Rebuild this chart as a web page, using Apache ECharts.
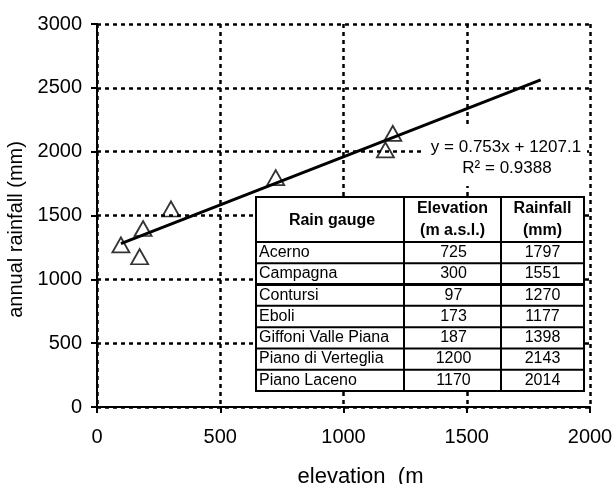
<!DOCTYPE html>
<html>
<head>
<meta charset="utf-8">
<script src="https://cdn.jsdelivr.net/npm/echarts@6/dist/echarts.min.js"></script>
<style>
  html, body { margin: 0; padding: 0; background: #fff; }
  #chart { width: 613px; height: 484px; }
</style>
</head>
<body>
<div id="chart"></div>
<script>
// rain gauge data (from the table in the figure)
const gauges = ['Acerno', 'Campagna', 'Contursi', 'Eboli', 'Giffoni Valle Piana', 'Piano di Verteglia', 'Piano Laceno'];
const elevations = [725, 300, 97, 173, 187, 1200, 1170];
const rainfall = [1797, 1551, 1270, 1177, 1398, 2143, 2014];

// linear trend line y = 0.753x + 1207.1, drawn between these end points
const trendX = [97, 1800];
const trendY = [1280, 2562];

const xTicks = [0, 500, 1000, 1500, 2000];
const yTicks = [0, 500, 1000, 1500, 2000, 2500, 3000];

const FONT = '"Liberation Sans", Arial, sans-serif';

const points = elevations.map((e, i) => [e, rainfall[i]]);
const trend = trendX.map((x, i) => [x, trendY[i]]);

// table overlay
const tbl = { x0: 256, x1: 404, x2: 501, x3: 584, top: 197, head: 242, bottom: 391 };
const rowH = (tbl.bottom - tbl.head) / gauges.length;
const els = [];
els.push({
  type: 'rect', z: 50,
  shape: { x: tbl.x0, y: tbl.top, width: tbl.x3 - tbl.x0, height: tbl.bottom - tbl.top },
  style: { fill: '#fff', stroke: '#000', lineWidth: 2 }
});
function hline(y, w) {
  els.push({ type: 'line', z: 51, shape: { x1: tbl.x0, y1: y, x2: tbl.x3, y2: y }, style: { stroke: '#000', lineWidth: w } });
}
function vline(x) {
  els.push({ type: 'line', z: 51, shape: { x1: x, y1: tbl.top, x2: x, y2: tbl.bottom }, style: { stroke: '#000', lineWidth: 2 } });
}
function txt(s, x, y, align, bold) {
  els.push({
    type: 'text', z: 52, x: x, y: y,
    style: {
      text: s, fill: '#000',
      font: (bold ? 'bold ' : '') + '16px ' + FONT,
      align: align, verticalAlign: 'middle',
      textAlign: align, textVerticalAlign: 'middle'
    }
  });
}
hline(tbl.head, 2);
for (let i = 1; i < gauges.length; i++) {
  hline(tbl.head + rowH * i, i === 2 ? 3 : 2);
}
vline(tbl.x1);
vline(tbl.x2);
txt('Rain gauge', (tbl.x0 + tbl.x1) / 2 + 2, 221, 'center', true);
txt('Elevation', (tbl.x1 + tbl.x2) / 2, 209, 'center', true);
txt('(m a.s.l.)', (tbl.x1 + tbl.x2) / 2, 231, 'center', true);
txt('Rainfall', (tbl.x2 + tbl.x3) / 2, 209, 'center', true);
txt('(mm)', (tbl.x2 + tbl.x3) / 2, 231, 'center', true);
gauges.forEach((g, i) => {
  const cy = tbl.head + rowH * (i + 0.5);
  txt(g, tbl.x0 + 3, cy, 'left', false);
  txt(String(elevations[i]), (tbl.x1 + tbl.x2) / 2 + 1, cy, 'center', false);
  txt(String(rainfall[i]), (tbl.x2 + tbl.x3) / 2, cy, 'center', false);
});

// equation label
els.push({
  type: 'rect', z: 50,
  shape: { x: 425, y: 127, width: 162, height: 59 },
  style: { fill: '#fff' }
});
els.push({
  type: 'text', z: 52, x: 506, y: 147,
  style: { text: 'y = 0.753x + 1207.1', fill: '#000', font: '17px ' + FONT,
    align: 'center', verticalAlign: 'middle', textAlign: 'center', textVerticalAlign: 'middle' }
});
els.push({
  type: 'text', z: 52, x: 507, y: 168,
  style: { text: 'R\u00b2 = 0.9388', fill: '#000', font: '17px ' + FONT,
    align: 'center', verticalAlign: 'middle', textAlign: 'center', textVerticalAlign: 'middle' }
});

const axisCommon = {
  type: 'value',
  axisLine: { show: true, onZero: false, lineStyle: { color: '#000', width: 2 } },
  axisTick: { show: true, inside: false, length: 6, lineStyle: { color: '#000', width: 2 } },
  splitLine: { show: true, lineStyle: { color: '#000', width: 2.5, type: [4, 4] } },
  axisLabel: { color: '#000', fontSize: 20, fontFamily: FONT, formatter: v => String(v) }
};

const chart = echarts.init(document.getElementById('chart'), null, { renderer: 'canvas' });
chart.setOption({
  animation: false,
  backgroundColor: '#fff',
  grid: { left: 97, right: 23, top: 24, bottom: 77, containLabel: false, outerBoundsMode: 'none' },
  xAxis: Object.assign({}, axisCommon, {
    min: xTicks[0], max: xTicks[xTicks.length - 1], interval: xTicks[1] - xTicks[0],
    axisLabel: Object.assign({}, axisCommon.axisLabel, { margin: 20 }),
    name: 'elevation  (m',
    nameLocation: 'middle',
    nameGap: 59,
    nameTextStyle: { color: '#000', fontSize: 22, fontFamily: FONT, padding: [0, 0, 0, 34] }
  }),
  yAxis: Object.assign({}, axisCommon, {
    min: yTicks[0], max: yTicks[yTicks.length - 1], interval: yTicks[1] - yTicks[0],
    axisLabel: Object.assign({}, axisCommon.axisLabel, { margin: 15 }),
    name: 'annual rainfall (mm)',
    nameLocation: 'middle',
    nameGap: 65,
    nameTextStyle: { color: '#000', fontSize: 20, fontFamily: FONT, padding: [0, 28, 0, 0] }
  }),
  series: [
    {
      type: 'scatter',
      data: points,
      symbol: 'triangle',
      symbolSize: [17, 15],
      itemStyle: { color: 'rgba(255,255,255,0)', borderColor: '#000', borderWidth: 1.8 },
      z: 2
    },
    {
      type: 'line',
      data: trend,
      showSymbol: false,
      symbol: 'none',
      lineStyle: { color: '#000', width: 3 },
      z: 3
    }
  ],
  graphic: { elements: els }
});
</script>
</body>
</html>
